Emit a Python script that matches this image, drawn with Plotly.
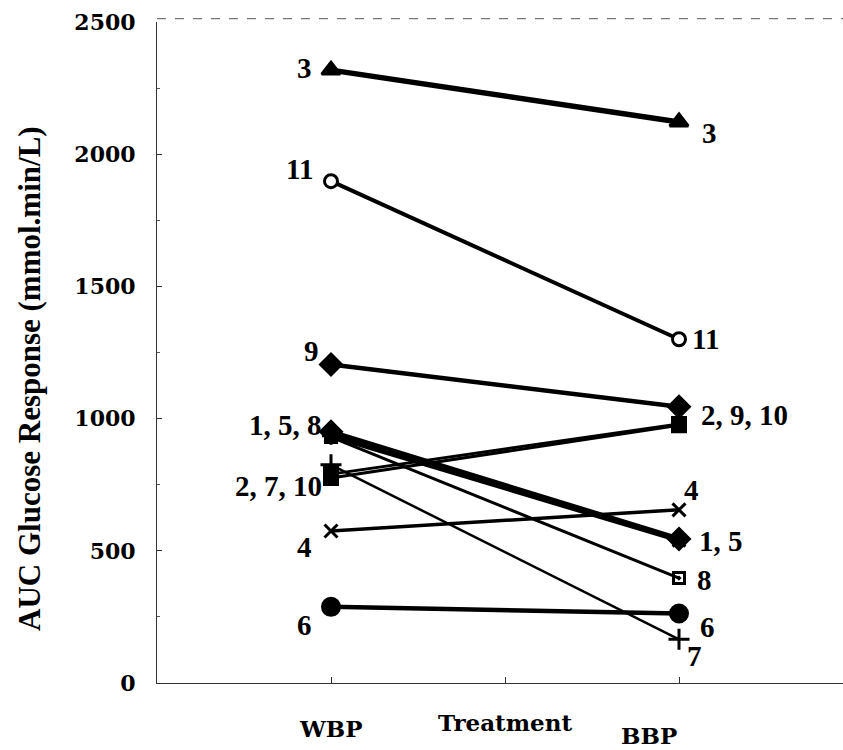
import plotly.graph_objects as go

# Paired AUC glucose responses per subject under the two treatments
subjects = ["1", "2", "3", "4", "5", "6", "7", "8", "9", "10", "11"]
wbp_auc = [950, 790, 2318, 575, 935, 288, 825, 930, 1205, 775, 1898]
bbp_auc = [545, 980, 2122, 655, 540, 263, 165, 397, 1045, 975, 1300]

treatments = ["WBP", "Treatment", "BBP"]
treatment_pos = [1, 2, 3]
y_ticks = [0, 500, 1000, 1500, 2000, 2500]

# Group labels placed beside the points (text, subject the label sits next to)
left_labels = [("3", "3"), ("11", "11"), ("9", "9"), ("1, 5, 8", "1"),
               ("2, 7, 10", "10"), ("4", "4"), ("6", "6")]
right_labels = [("3", "3"), ("11", "11"), ("2, 9, 10", "9"), ("4", "4"),
                ("1, 5", "1"), ("8", "8"), ("6", "6"), ("7", "7")]

# marker symbol, marker size, line width per subject
style = {
    "1": ("diamond", 16, 5.0),
    "2": ("square", 13, 3.0),
    "3": ("triangle-up", 16, 5.5),
    "4": ("x-thin-open", 13, 3.5),
    "5": ("asterisk-open", 15, 5.0),
    "6": ("circle", 17, 4.5),
    "7": ("cross-thin-open", 15, 2.5),
    "8": ("square-open-dot", 11, 3.0),
    "9": ("diamond", 16, 4.5),
    "10": ("square", 13, 3.0),
    "11": ("circle", 13, 4.0),
}

fig = go.Figure()
for s, a, b in zip(subjects, wbp_auc, bbp_auc):
    sym, size, lw = style[s]
    marker = dict(symbol=sym, size=size, color="black",
                  line=dict(color="black", width=3))
    if s == "11":
        marker = dict(symbol="circle", size=size, color="white",
                      line=dict(color="black", width=3))
    fig.add_trace(go.Scatter(
        x=[1, 3], y=[a, b], mode="lines+markers",
        line=dict(color="black", width=lw),
        marker=marker, showlegend=False, hoverinfo="skip",
    ))

serif = "Liberation Serif, Times New Roman, serif"
label_font = dict(family=serif, size=29, color="black", weight="bold")

left_offsets = {
    "3": (-27, -2, "center"), "11": (-32, -12, "center"), "9": (-20, -13, "center"),
    "1, 5, 8": (-7, -7, "right"), "2, 7, 10": (-7, 8, "right"),
    "4": (-27, 16, "center"), "6": (-27, 18, "center"),
}
right_offsets = {
    "3": (30, 11, "center"), "11": (11, 0, "left"), "2, 9, 10": (20, 8, "left"),
    "4": (12, -20, "center"), "1, 5": (18, 2, "left"), "8": (25, 2, "center"),
    "6": (28, 14, "center"), "7": (15, 17, "center"),
}

for text, s in left_labels:
    dx, dy, anchor = left_offsets[text]
    fig.add_annotation(x=1, y=wbp_auc[subjects.index(s)], text=text,
                       showarrow=False, xshift=dx, yshift=-dy,
                       xanchor=anchor, yanchor="middle", font=label_font)
for text, s in right_labels:
    dx, dy, anchor = right_offsets[text]
    fig.add_annotation(x=3, y=bbp_auc[subjects.index(s)], text=text,
                       showarrow=False, xshift=dx, yshift=-dy,
                       xanchor=anchor, yanchor="middle", font=label_font)

# Category names and axis name under the x axis
axis_label_font = dict(family="DejaVu Serif, serif", size=23, color="black",
                       weight="bold")
x_label_offsets = {"WBP": (0, 45), "Treatment": (0, 39), "BBP": (-30, 52)}
for pos, name in zip(treatment_pos, treatments):
    dx, dy = x_label_offsets[name]
    fig.add_annotation(x=pos, y=0, yref="y", text=name, showarrow=False,
                       xshift=dx, yshift=-dy, xanchor="center", yanchor="middle",
                       font=axis_label_font)

# Y axis title
fig.add_annotation(xref="paper", yref="paper", x=0, y=0.46, xshift=-127,
                   text="AUC Glucose Response (mmol.min/L)", textangle=-90,
                   showarrow=False, xanchor="center", yanchor="middle",
                   font=dict(family=serif, size=31, color="black", weight="bold"))

# dashed top border of the plotting area
fig.add_shape(type="line", xref="paper", yref="paper", x0=0, x1=1, y0=1.005, y1=1.005,
              line=dict(color="#555555", width=1, dash="dash"))

fig.update_layout(
    width=843, height=750,
    margin=dict(l=157, r=0, t=22, b=67),
    paper_bgcolor="white", plot_bgcolor="white",
    xaxis=dict(
        range=[0, 686 / 174], tickvals=treatment_pos, showticklabels=False,
        ticks="inside", ticklen=6, tickcolor="#333333", tickwidth=1,
        showline=True, linecolor="#333333", linewidth=1,
        showgrid=False, zeroline=False,
    ),
    yaxis=dict(
        range=[0, 2500], tickvals=y_ticks,
        ticks="inside", ticklen=5, tickcolor="#333333", tickwidth=1,
        minor=dict(dtick=250, ticks="inside", ticklen=3, tickcolor="#555555"),
        showline=True, linecolor="#333333", linewidth=1,
        showgrid=False, zeroline=False,
        tickfont=dict(family="DejaVu Serif, serif", size=22, color="black",
                      weight="bold"),
        ticklabelstandoff=16,
    ),
)

fig.write_html("out.html")
